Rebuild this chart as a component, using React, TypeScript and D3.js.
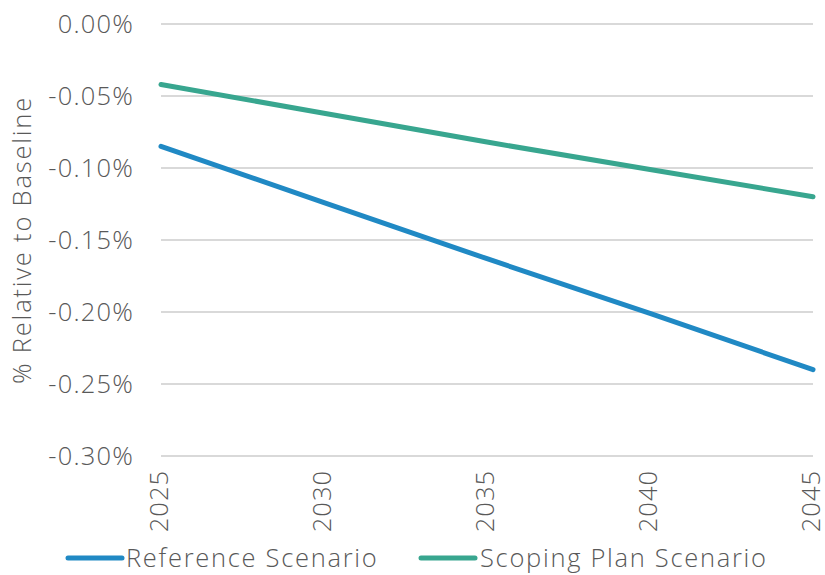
import React from "react";
import * as d3 from "d3";

const years = [2025, 2030, 2035, 2040, 2045];
const referenceScenario = [-0.085, -0.124, -0.163, -0.201, -0.240];
const scopingPlanScenario = [-0.042, -0.062, -0.082, -0.101, -0.120];
const yTicks = [0, -0.05, -0.1, -0.15, -0.2, -0.25, -0.3];
const seriesNames = ["Reference Scenario", "Scoping Plan Scenario"];
const seriesColors = ["#2089C4", "#38A68F"];

const W = 825, H = 575;
const left = 161, right = 813, top = 24, bottom = 456;
const font = "'Open Sans', Lato, sans-serif";
const textColor = "#595959";
const fmt = (t: number) => (t === 0 ? "0.00%" : "-" + Math.abs(t).toFixed(2) + "%");

export default function App() {
  const x = d3.scalePoint<number>().domain(years).range([left, right]);
  const y = d3.scaleLinear().domain([-0.3, 0]).range([bottom, top]);
  const line = d3.line<number>().x((_, i) => x(years[i])!).y((d) => y(d));
  const series = [referenceScenario, scopingPlanScenario];
  return (
    <svg width={W} height={H} style={{ position: "absolute", left: 0, top: 0, background: "#fff" }} fontFamily={font} fontWeight={300}>
      {yTicks.map((t) => (
        <g key={t}>
          <line x1={left} x2={right} y1={y(t)} y2={y(t)} stroke="#D9D9D9" strokeWidth={2} />
          <text x={134} y={y(t)} dy="0.36em" textAnchor="end" fontSize={25.5} fill={textColor} letterSpacing={1.2}>
            {fmt(t)}
          </text>
        </g>
      ))}
      {years.map((yr) => (
        <text key={yr} transform={`translate(${x(yr)! - 2},${470}) rotate(-90)`} dy="0.36em" textAnchor="end" fontSize={25.5} fill={textColor} letterSpacing={1}>
          {yr}
        </text>
      ))}
      <text transform={`translate(22,${240}) rotate(-90)`} dy="0.36em" textAnchor="middle" fontSize={25.5} fill={textColor} letterSpacing={1.8}>
        % Relative to Baseline
      </text>
      {series.map((s, i) => (
        <path key={i} d={line(s)!} fill="none" stroke={seriesColors[i]} strokeWidth={5} strokeLinecap="round" strokeLinejoin="round" />
      ))}
      {[
        { x0: 68, tx: 126 },
        { x0: 421, tx: 480 },
      ].map((l, i) => (
        <g key={i}>
          <line x1={l.x0} x2={l.x0 + 54} y1={558} y2={558} stroke={seriesColors[i]} strokeWidth={5} strokeLinecap="round" />
          <text x={l.tx} y={558} dy="0.36em" fontSize={25.5} fill={textColor} letterSpacing={1.7}>
            {seriesNames[i]}
          </text>
        </g>
      ))}
    </svg>
  );
}
